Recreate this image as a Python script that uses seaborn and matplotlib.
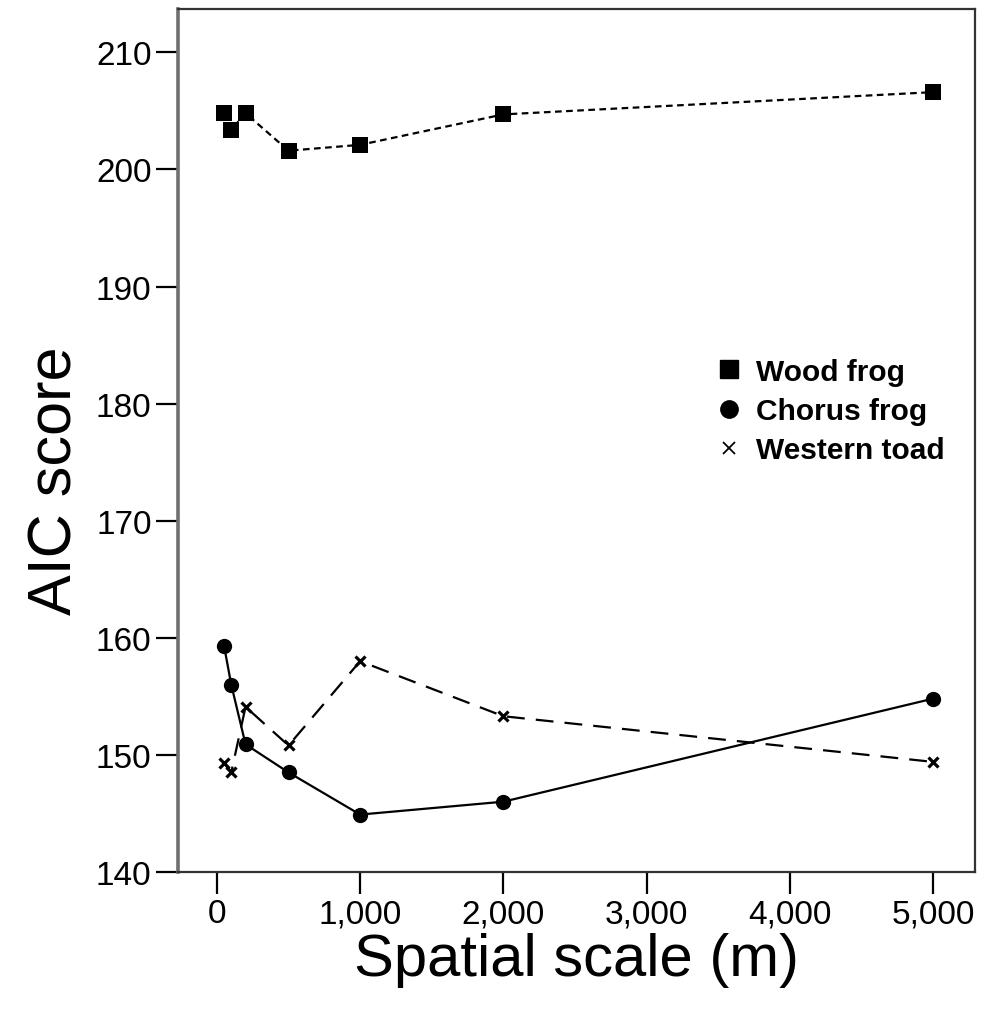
import matplotlib
matplotlib.use("Agg")
import matplotlib.pyplot as plt
import seaborn as sns
import pandas as pd
from matplotlib.lines import Line2D
from matplotlib.ticker import FuncFormatter

# Data
scales = [50, 100, 200, 500, 1000, 2000, 5000]
wood_frog = [204.8, 203.4, 204.8, 201.6, 202.1, 204.7, 206.6]
chorus_frog = [159.3, 156.0, 150.9, 148.5, 144.9, 146.0, 154.8]
western_toad = [149.3, 148.5, 154.1, 150.8, 158.0, 153.3, 149.4]
species = ["Wood frog", "Chorus frog", "Western toad"]
x_ticks = [0, 1000, 2000, 3000, 4000, 5000]
y_ticks = [140, 150, 160, 170, 180, 190, 200, 210]

sns.set_theme(style="white")
plt.rcParams['font.family'] = ['Liberation Sans', 'DejaVu Sans']
plt.rcParams['text.color'] = 'black'

fig = plt.figure(figsize=(9.87, 10.12), dpi=100)
ax = fig.add_axes([0.1803, 0.1374, 0.8075, 0.8527])

series = [wood_frog, chorus_frog, western_toad]
styles = {
    "Wood frog": dict(marker="s", linestyle=(0, (3, 2)), markersize=11, mew=0),
    "Chorus frog": dict(marker="o", linestyle="-", markersize=11, mew=0),
    "Western toad": dict(marker="x", linestyle=(0, (8, 5)), markersize=6.5, mew=2.3),
}
for name, vals in zip(species, series):
    df = pd.DataFrame({"scale": scales, "aic": vals})
    st = styles[name]
    sns.lineplot(data=df, x="scale", y="aic", ax=ax, color="black", lw=1.6,
                 marker=st["marker"], linestyle=st["linestyle"],
                 markersize=st["markersize"], markeredgewidth=st["mew"],
                 markeredgecolor="black", sort=False, legend=False)

ax.set_xlim(-272, 5293)
ax.set_ylim(140, 213.7)
ax.set_xticks(x_ticks)
ax.set_yticks(y_ticks)
ax.xaxis.set_major_formatter(FuncFormatter(lambda v, p: f"{int(v):,}"))
ax.tick_params(axis="both", direction="out", length=16, width=1.6, color="black",
               labelsize=24, labelcolor="black", pad=3,
               bottom=True, left=True, top=False, right=False)

for s in ["top", "right", "bottom"]:
    ax.spines[s].set_color("#333333")
    ax.spines[s].set_linewidth(1.6)
ax.spines["left"].set_color("#707070")
ax.spines["left"].set_linewidth(2.6)

ax.set_xlabel("Spatial scale (m)", fontsize=43, color="black", labelpad=2)
ax.set_ylabel("AIC score", fontsize=44, color="black")
ax.yaxis.set_label_coords(-0.117, 0.455)

handles = [
    Line2D([], [], color="black", marker="s", linestyle="none", markersize=12.5),
    Line2D([], [], color="black", marker="o", linestyle="none", markersize=12.5),
    Line2D([], [], color="black", marker="x", linestyle="none", markersize=8, mew=1.3),
]
leg = ax.legend(handles, species, loc="upper left", bbox_to_anchor=(0.635, 0.627),
                frameon=False, prop={"size": 21.5, "weight": "bold"},
                handletextpad=0.3, labelspacing=0.38, handlelength=1.2)
for t in leg.get_texts():
    t.set_color("black")

fig.savefig("out.png", dpi=100, facecolor="white")
